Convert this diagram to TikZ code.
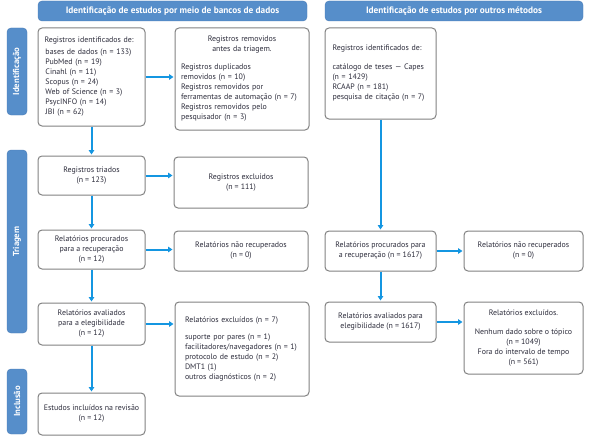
\documentclass[tikz,border=0pt]{standalone}
\usepackage{fontspec}
\setmainfont{PT Sans}
\usetikzlibrary{arrows.meta}
\definecolor{hdr}{RGB}{86,142,202}
\definecolor{hdrline}{RGB}{72,122,182}
\definecolor{arr}{RGB}{20,150,225}
\definecolor{boxline}{RGB}{130,130,130}
\definecolor{txt}{RGB}{45,45,60}
\begin{document}
\begin{tikzpicture}[x=1pt,y=-1pt,
  box/.style={draw=boxline,line width=1pt,rounded corners=4pt,fill=white,inner sep=0pt,
    font=\fontsize{7.9}{10}\selectfont,text=txt},
  hdrbox/.style={draw=hdrline,fill=hdr,rounded corners=4pt,inner sep=0pt,text=white,
    font=\fontsize{9.3}{11}\selectfont\bfseries},
  side/.style={draw=hdrline,fill=hdr,rounded corners=4pt,inner sep=0pt,text=white,
    font=\fontsize{8.7}{10}\selectfont\bfseries,rotate=90},
  flow/.style={draw=arr,line width=2pt,shorten >=1pt,-{Triangle[length=4.5pt,width=5.5pt]}}]
\useasboundingbox (0,0) rectangle (589,436);
% headers
\node[hdrbox,minimum width=269pt,minimum height=20pt] (h1) at (172.5,11) {Identificação de estudos por meio de bancos de dados};
\node[hdrbox,minimum width=258pt,minimum height=20pt] (h2) at (454,11) {Identificação de estudos por outros métodos};
% side labels
\node[side,minimum width=87pt,minimum height=20pt] (s1) at (17,71.5) {Identificação};
\node[side,minimum width=183pt,minimum height=20pt] (s2) at (17,241.5) {Triagem};
\node[side,minimum width=65pt,minimum height=20pt] (s3) at (17,401.5) {Inclusão};
% left column
\node[box,minimum width=107pt,minimum height=98pt,text width=94pt,align=left] (A) at (91.5,77)
 {Registros identificados de:\\[2pt]
  \hspace*{1pt}bases de dados (n = 133)\\\hspace*{1pt}PubMed (n = 19)\\\hspace*{1pt}Cinahl (n = 11)\\\hspace*{1pt}Scopus (n = 24)\\\hspace*{1pt}Web of Science (n = 3)\\\hspace*{1pt}PsycINFO (n = 14)\\\hspace*{1pt}JBI (n = 62)};
\node[box,minimum width=134pt,minimum height=102pt,text width=122pt,align=left] (B) at (242,79)
 {{\centering Registros removidos\\antes da triagem.\par}\vspace{8pt}%
  Registros duplicados\\removidos (n = 10)\\Registros removidos por\\ferramentas de automação (n = 7)\\Registros removidos pelo\\pesquisador (n = 3)};
\node[box,minimum width=107pt,minimum height=39pt,align=center] (D) at (91.5,175.5)
 {Registros triados\\(n = 123)};
\node[box,minimum width=134pt,minimum height=51pt,align=center] (E) at (241,182.5)
 {Registros excluídos\\(n = 111)};
\node[box,minimum width=107pt,minimum height=39pt,align=center] (F) at (91.5,249.5)
 {Relatórios procurados\\para a recuperação\\(n = 12)};
\node[box,minimum width=134pt,minimum height=40pt,align=center] (G) at (241,251)
 {Relatórios não recuperados\\(n = 0)};
\node[box,minimum width=107pt,minimum height=42pt,align=center] (J) at (91.5,324)
 {Relatórios avaliados\\para a elegibilidade\\(n = 12)};
\node[box,minimum width=134pt,minimum height=94pt,text width=114pt,align=left] (K) at (242,349)
 {Relatórios excluídos (n = 7)\\[7pt]
  suporte por pares (n = 1)\\facilitadores/navegadores (n = 1)\\protocolo de estudo (n = 2)\\DMT1 (1)\\outros diagnósticos (n = 2)};
\node[box,minimum width=107pt,minimum height=42pt,align=center] (L) at (91.5,414)
 {Estudos incluídos na revisão\\(n = 12)};
% right column
\node[box,minimum width=111pt,minimum height=91pt,text width=96pt,align=left] (C) at (380.5,73.5)
 {Registros identificados de:\\[9pt]
  catálogo de teses — Capes\\(n = 1429)\\RCAAP (n = 181)\\pesquisa de citação (n = 7)};
\node[box,minimum width=111pt,minimum height=40pt,align=center] (H) at (380.5,251)
 {Relatórios procurados para\\a recuperação (n = 1617)};
\node[box,minimum width=119pt,minimum height=40pt,align=center] (I) at (523.5,251)
 {Relatórios não recuperados\\(n = 0)};
\node[box,minimum width=111pt,minimum height=40pt,align=center] (M) at (380.5,322)
 {Relatórios avaliados para\\elegibilidade (n = 1617)};
\node[box,minimum width=119pt,minimum height=72pt,align=center] (N) at (523.5,338)
 {Relatórios excluídos.\\[9pt]Nenhum dado sobre o tópico\\(n = 1049)\\Fora do intervalo de tempo\\(n = 561)};
% connectors
\draw[flow] (A.east) -- (B.west |- A.east);
\draw[flow] (A.south) -- (D.north);
\draw[flow] (D.east) -- (E.west |- D.east);
\draw[flow] (D.south) -- (F.north);
\draw[flow] (F.east) -- (G.west |- F.east);
\draw[flow] (F.south) -- (J.north);
\draw[flow] (J.east) -- (K.west |- J.east);
\draw[flow] (J.south) -- (L.north);
\draw[flow] (C.south) -- (H.north);
\draw[flow] (H.east) -- (I.west);
\draw[flow] (H.south) -- (M.north);
\draw[flow] (M.east) -- (N.west |- M.east);
\end{tikzpicture}
\end{document}
